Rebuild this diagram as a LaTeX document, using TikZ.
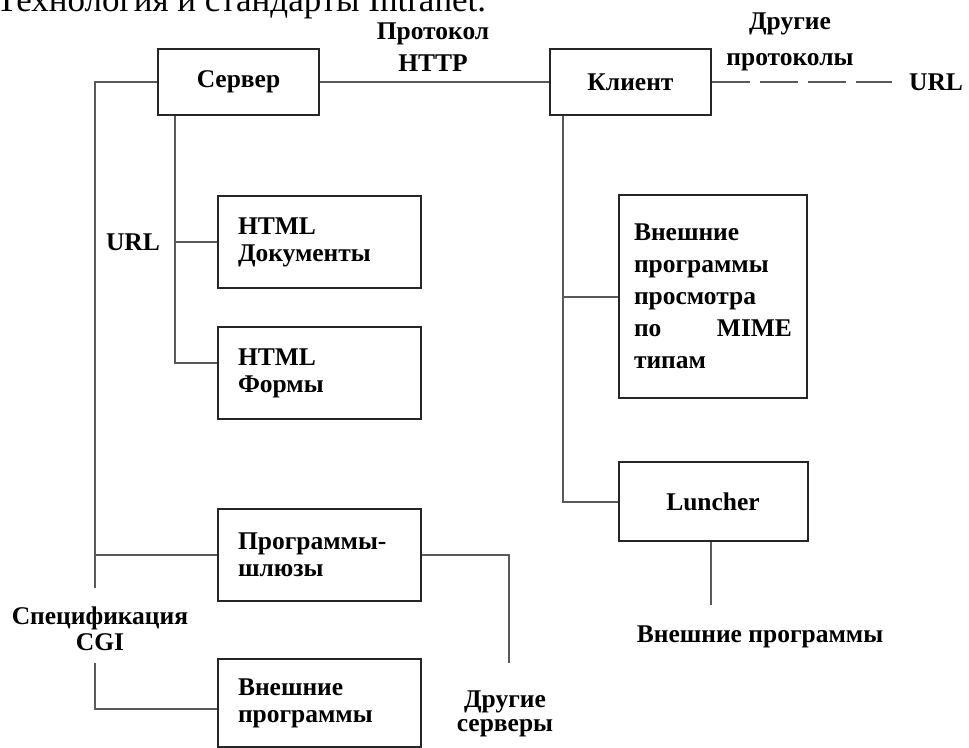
\documentclass[tikz,border=0pt]{standalone}
\usepackage{fontspec}
\setmainfont{Liberation Serif}
\usetikzlibrary{positioning}

\begin{document}
\begin{tikzpicture}[x=1pt, y=-1pt,
    every node/.style={font=\bfseries\fontsize{25.5}{27}\selectfont},
    box/.style={draw=black!85, line width=2pt, inner sep=0pt, align=center},
    tbox/.style={box, text width=163pt, inner xsep=20pt, align=left, minimum height=#1},
    link/.style={draw=black!65, line width=2pt},
    node distance=37pt]

    \useasboundingbox (0,0) rectangle (969,747);

    % cut-off heading at the top
    \begin{scope}
        \clip (0,0) rectangle (969,747);
        \node[font=\fontsize{35}{37}\selectfont, anchor=base west, inner sep=0pt] (title) at (-4,11) {Технология и стандарты Intranet.};
    \end{scope}

    \node[box, minimum width=161pt, minimum height=66pt] (srv) at (238.5,82) {Сервер};
    \node[box, minimum width=161pt, minimum height=66pt, right=229pt of srv] (cli) {Клиент};

    \node[tbox=92pt] (docs) at (319.5,242) {HTML\\Документы};
    \node[tbox=92pt, below=of docs] (forms) {HTML\\Формы};
    \node[tbox=92pt] (gate) at (319.5,555) {Программы-\\шлюзы};
    \node[tbox=88pt, below=56pt of gate] (ext) {Внешние\\программы};

    \node[box, text width=158pt, inner xsep=15pt, align=left, minimum height=203pt,
          font=\bfseries\fontsize{25.5}{32}\selectfont] (mime) at (713,296.5)
          {Внешние\\программы\\просмотра\\по\hfill MIME\\типам};
    \node[box, minimum width=189pt, minimum height=79pt, below=62pt of mime] (lun) {Luncher};

    % labels
    \node[align=center, font=\bfseries\fontsize{25.5}{32}\selectfont] (http) at (433,47) {Протокол\\HTTP};
    \node[align=center, font=\bfseries\fontsize{25.5}{36}\selectfont] (proto) at (790,42) {Другие\\протоколы};
    \node (url2) at (936,82) {URL};
    \node (url1) at (133,242) {URL};
    \node[align=center, font=\bfseries\fontsize{25.5}{26}\selectfont] (cgi) at (100,629) {Спецификация\\CGI};
    \node[align=center, font=\bfseries\fontsize{25.5}{24}\selectfont] (oth) at (505,714) {Другие\\серверы};
    \node (extp) at (760,637) {Внешние программы};

    \coordinate (busEnd) at (95,588);
    \coordinate (srvEnd) at (509,663);
    \coordinate (lunEnd) at (711,605);

    \draw[link] (srv) -- (cli);
    \draw[link, dash pattern=on 38pt off 10pt] (cli.east) -- ([xshift=-14pt]url2.west);

    \draw[link] (srv.west) -| (busEnd);
    \draw[link] (gate.west) -- (gate.west -| busEnd);
    \draw[link] ([xshift=18pt]srv.south west) |- (docs.west);
    \draw[link] ([xshift=18pt]srv.south west) |- ([yshift=10pt]forms.west);
    \draw[link] ([yshift=-8pt]cgi.south -| busEnd) |- ([yshift=-6pt]ext.west);
    \draw[link] (gate.east) -| (srvEnd);

    \draw[link] ([xshift=14pt]cli.south west) |- (mime.west);
    \draw[link] ([xshift=14pt]cli.south west) |- (lun.west);
    \draw[link] (lunEnd |- lun.south) -- (lunEnd);

\end{tikzpicture}
\end{document}
